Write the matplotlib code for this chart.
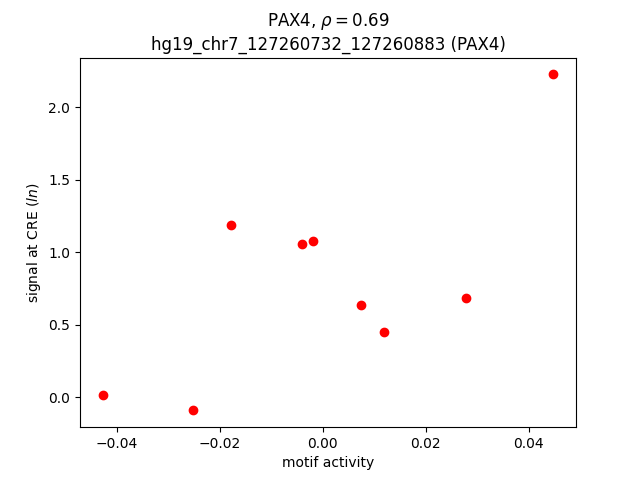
import matplotlib
matplotlib.use("Agg")
import matplotlib.pyplot as plt

motif_activity = [-0.04279, -0.02526, -0.01786, -0.00403, -0.00189, 0.00746, 0.01188, 0.02791, 0.04485]
signal = [0.014, -0.092, 1.184, 1.055, 1.074, 0.632, 0.448, 0.683, 2.226]

title = "PAX4, $\\rho = 0.69$\nhg19_chr7_127260732_127260883 (PAX4)"

fig = plt.figure(figsize=(6.4, 4.8), dpi=100)
plt.scatter(motif_activity, signal, c="red")
plt.xlabel("motif activity")
plt.ylabel("signal at CRE ($ln$)")
plt.title(title)
plt.savefig("out.png")
